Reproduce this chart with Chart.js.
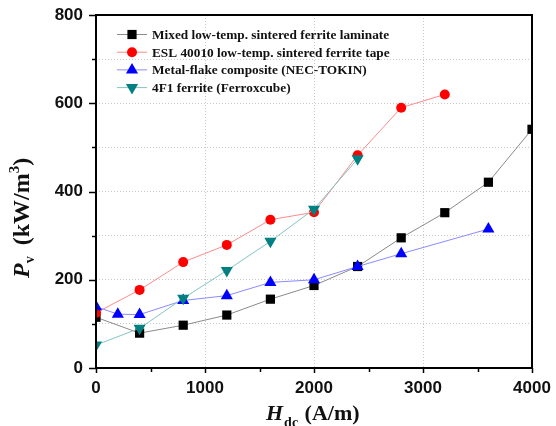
<!DOCTYPE html>
<html>
<head>
<meta charset="utf-8">
<script src="https://cdn.jsdelivr.net/npm/chart.js@4/dist/chart.umd.min.js"></script>
<style>
  html, body { margin: 0; padding: 0; background: #fff; }
  #wrap { width: 556px; height: 426px; }
</style>
</head>
<body>
<div id="wrap"><canvas id="chart" width="556" height="426"></canvas></div>
<script>
// H_dc values (A/m) and P_v values (kW/m^3)
const mixedX = [0, 400, 800, 1200, 1600, 2000, 2400, 2800, 3200, 3600, 4000];
const mixedY = [115, 79, 97, 120, 156, 187, 230, 295, 352, 421, 541];
const eslX = [0, 400, 800, 1200, 1600, 2000, 2400, 2800, 3200];
const eslY = [125, 177, 240, 279, 336, 353, 482, 590, 620];
const metalX = [0, 200, 400, 800, 1200, 1600, 2000, 2400, 2800, 3600];
const metalY = [139, 122, 121, 153, 164, 194, 200, 230, 259, 315];
const ferriteX = [0, 400, 800, 1200, 1600, 2000, 2400];
const ferriteY = [52, 90, 158, 221, 287, 360, 474];

const seriesNames = [
  'Mixed low-temp. sintered ferrite laminate',
  'ESL 40010 low-temp. sintered ferrite tape',
  'Metal-flake composite (NEC-TOKIN)',
  '4F1 ferrite (Ferroxcube)'
];

function pts(xs, ys) {
  return xs.map((x, i) => ({ x: x, y: ys[i] }));
}

const SANS = '"Liberation Sans", Arial, sans-serif';
const SERIF = '"Liberation Serif", "Times New Roman", serif';

// draw one marker, used for the legend samples
function marker(ctx, ds, x, y) {
  ctx.save();
  ctx.fillStyle = ds.pointBackgroundColor;
  ctx.beginPath();
  const r = ds.pointRadius;
  if (ds.pointStyle === 'circle') {
    ctx.arc(x, y, r, 0, Math.PI * 2);
  } else if (ds.pointStyle === 'rect') {
    const s = r / Math.SQRT2;
    ctx.rect(x - s, y - s, 2 * s, 2 * s);
  } else {
    const dir = ds.pointRotation === 180 ? 1 : -1;
    ctx.moveTo(x, y + dir * r);
    ctx.lineTo(x + r * Math.sqrt(3) / 2, y - dir * r / 2);
    ctx.lineTo(x - r * Math.sqrt(3) / 2, y - dir * r / 2);
    ctx.closePath();
  }
  ctx.fill();
  ctx.restore();
}

const decorPlugin = {
  id: 'decor',
  afterDraw(chart) {
    const ctx = chart.ctx;
    const a = chart.chartArea;
    const xs = chart.scales.x, ys = chart.scales.y;

    // frame
    ctx.save();
    ctx.strokeStyle = '#000';
    ctx.lineWidth = 2;
    ctx.strokeRect(a.left, a.top, a.right - a.left, a.bottom - a.top);

    // outward ticks, major and minor
    ctx.lineWidth = 1.5;
    ctx.beginPath();
    xs.ticks.forEach(t => {
      const px = Math.round(xs.getPixelForValue(t.value)) + 0.5;
      const len = t.value % 1000 === 0 ? 5 : 4;
      ctx.moveTo(px, a.bottom);
      ctx.lineTo(px, a.bottom + len);
    });
    ys.ticks.forEach(t => {
      const py = Math.round(ys.getPixelForValue(t.value)) + 0.5;
      const len = t.value % 200 === 0 ? 7 : 4;
      ctx.moveTo(a.left, py);
      ctx.lineTo(a.left - len, py);
    });
    ctx.stroke();
    ctx.restore();

    // x axis title: H_dc (A/m)
    ctx.save();
    ctx.fillStyle = '#111';
    ctx.textBaseline = 'alphabetic';
    let x = 266;
    const by = 420;
    ctx.font = 'italic bold 22px ' + SERIF;
    ctx.fillText('H', x, by);
    x += ctx.measureText('H').width + 1;
    ctx.font = 'bold 14px ' + SERIF;
    ctx.fillText('dc', x, by + 7);
    x += ctx.measureText('dc').width + 1;
    ctx.font = 'bold 22px ' + SERIF;
    ctx.fillText(' (A/m)', x, by);
    ctx.restore();

    // y axis title: P_v (kW/m^3)
    ctx.save();
    ctx.fillStyle = '#111';
    ctx.translate(29, 278);
    ctx.rotate(-Math.PI / 2);
    let y = 0;
    ctx.font = 'italic bold 24px ' + SERIF;
    ctx.fillText('P', y, 0);
    y += ctx.measureText('P').width;
    ctx.font = 'bold 14px ' + SERIF;
    ctx.fillText('v', y, 5);
    y += ctx.measureText('v').width + 5;
    ctx.font = 'bold 24px ' + SERIF;
    ctx.fillText(' (kW/m', y, 0);
    y += ctx.measureText(' (kW/m').width;
    ctx.font = 'bold 15px ' + SERIF;
    ctx.fillText('3', y, -10);
    y += ctx.measureText('3').width;
    ctx.font = 'bold 24px ' + SERIF;
    ctx.fillText(')', y, 0);
    ctx.restore();

    // legend inside the plot, top left
    ctx.save();
    ctx.font = 'bold 13.3px ' + SERIF;
    ctx.textBaseline = 'middle';
    chart.data.datasets.forEach((ds, i) => {
      const ly = 34.5 + i * 17.7;
      ctx.strokeStyle = ds.borderColor;
      ctx.lineWidth = 1;
      ctx.beginPath();
      ctx.moveTo(117, ly);
      ctx.lineTo(147, ly);
      ctx.stroke();
      marker(ctx, ds, 132, ly);
      ctx.fillStyle = '#111';
      ctx.fillText(ds.label, 152, ly + 1);
    });
    ctx.restore();
  }
};

const ctx = document.getElementById('chart').getContext('2d');
new Chart(ctx, {
  type: 'line',
  data: {
    datasets: [
      {
        label: seriesNames[0],
        data: pts(mixedX, mixedY),
        borderColor: '#8a8a8a',
        pointBackgroundColor: '#000',
        pointBorderColor: '#000',
        pointStyle: 'rect',
        pointRadius: 6.5,
        clip: 0,
        order: 4
      },
      {
        label: seriesNames[1],
        data: pts(eslX, eslY),
        borderColor: '#ff8a8a',
        pointBackgroundColor: '#ff0000',
        pointBorderColor: '#ff0000',
        pointStyle: 'circle',
        pointRadius: 5,
        clip: 0,
        order: 3
      },
      {
        label: seriesNames[2],
        data: pts(metalX, metalY),
        borderColor: '#8a8aff',
        pointBackgroundColor: '#0000ff',
        pointBorderColor: '#0000ff',
        pointStyle: 'triangle',
        pointRadius: 7,
        clip: 0,
        order: 2
      },
      {
        label: seriesNames[3],
        data: pts(ferriteX, ferriteY),
        borderColor: '#80c4c4',
        pointBackgroundColor: '#008080',
        pointBorderColor: '#008080',
        pointStyle: 'triangle',
        pointRotation: 180,
        pointRadius: 7,
        clip: 0,
        order: 1
      }
    ]
  },
  options: {
    responsive: false,
    animation: false,
    datasets: {
      line: { borderWidth: 1, pointBorderWidth: 0, tension: 0 }
    },
    layout: { padding: { left: 0, top: 15, right: 24, bottom: 0 } },
    plugins: {
      legend: { display: false },
      tooltip: { enabled: false }
    },
    scales: {
      x: {
        type: 'linear',
        min: 0,
        max: 4000,
        afterFit: s => { s.height = 58; s.paddingLeft = 0; s.paddingRight = 0; },
        ticks: {
          stepSize: 500,
          padding: 10,
          color: '#111',
          font: { family: SANS, size: 17, weight: 'bold' },
          maxRotation: 0,
          callback: v => (v % 1000 === 0 ? v : '')
        },
        grid: {
          drawTicks: false,
          color: c => (c.tick && c.tick.value % 1000 === 0 ? '#c8c8c8' : 'rgba(0,0,0,0)'),
          lineWidth: 1
        },
        border: { display: false, dash: [1, 2] }
      },
      y: {
        min: 0,
        max: 800,
        afterFit: s => { s.width = 96; s.paddingTop = 0; s.paddingBottom = 0; },
        ticks: {
          stepSize: 100,
          padding: 13,
          color: '#111',
          font: { family: SANS, size: 17, weight: 'bold' },
          callback: v => (v % 200 === 0 ? v : '')
        },
        grid: {
          drawTicks: false,
          color: '#c8c8c8',
          lineWidth: 1
        },
        border: { display: false, dash: [1, 2] }
      }
    }
  },
  plugins: [decorPlugin]
});
</script>
</body>
</html>
